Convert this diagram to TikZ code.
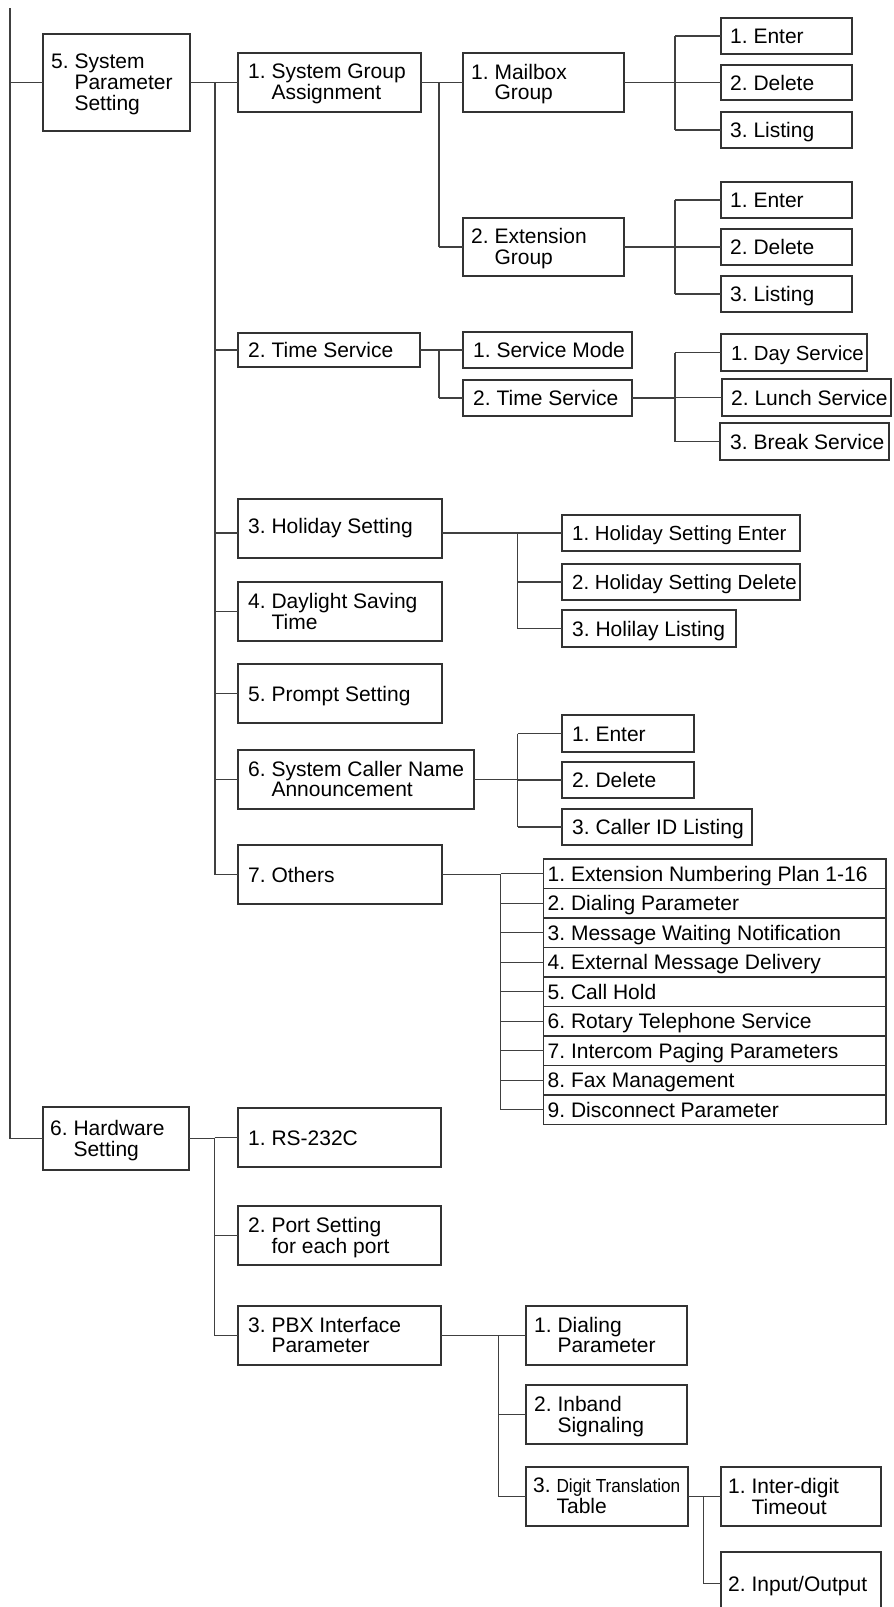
\documentclass[tikz,border=0pt]{standalone}
\usepackage{fontspec}
\setmainfont{Liberation Sans}
\usepackage{graphicx}
\usetikzlibrary{fit}
\newcommand\mainsz{\fontsize{21}{19.5}\selectfont\frenchspacing}
\newcommand\smsz{\fontsize{20.4}{19.5}\selectfont}
\tikzset{
  box/.style={draw=black!80, line width=1.2pt, inner sep=0pt, outer sep=0pt},
  lbl/.style={inner sep=0pt, anchor=west, font=\mainsz, text height=15pt, text depth=0pt},
  lblm/.style={inner sep=0pt, anchor=west, font=\mainsz, yshift=-2.5pt},
  conn/.style={draw=black!75, line width=1.2pt},
}
\newcommand\bx[7]{\node[box, fit={(#2,#3) (#4,#5)}] (#1) {};
  \node[lbl] (#1-lab) at ([xshift=#6pt]#1.west) {#7};}
\newcommand\bxm[7]{\node[box, fit={(#2,#3) (#4,#5)}] (#1) {};
  \node[lblm] (#1-lab) at ([xshift=#6pt]#1.west) {\begin{tabular}{@{}l@{\ }l@{}}#7\end{tabular}};}
\begin{document}
\begin{tikzpicture}[x=1pt,y=-1pt]
\useasboundingbox (0,0) rectangle (894,1607);

% level 1
\bxm{sps}{43}{34}{190}{131}{8}{5.&System\\&Parameter\\&Setting}
\bxm{hw}{43}{1107}{189}{1170}{7}{6.&Hardware\\&Setting}

% level 2 under System Parameter Setting
\bxm{sga}{238}{53}{421}{112}{10}{1.&System Group\\&Assignment}
\bx{ts}{238}{333}{420}{367}{10}{2. Time Service}
\node[box, fit={(238,499) (442,558)}] (hol) {};
\node[lbl] (hol-lab) at ([xshift=10pt,yshift=2.5pt]hol.west) {3. Holiday Setting};
\bxm{dst}{238}{582}{442}{641}{10}{4.&Daylight Saving\\&Time}
\bx{ps}{238}{664}{442}{723}{10}{5. Prompt Setting}
\bxm{scna}{238}{750}{474}{809}{10}{6.&System Caller Name\\&Announcement}
\bx{oth}{238}{845}{442}{904}{10}{7. Others}

% System Group Assignment
\bxm{mb}{463}{53}{624}{112}{8}{1.&Mailbox\\&Group}
\bxm{eg}{463}{218}{624}{276}{8}{2.&Extension\\&Group}
\bx{mb1}{721}{18}{852}{54}{9}{1. Enter}
\bx{mb2}{721}{65}{852}{100}{9}{2. Delete}
\bx{mb3}{721}{112}{852}{148}{9}{3. Listing}
\bx{eg1}{721}{182}{852}{218}{9}{1. Enter}
\bx{eg2}{721}{229}{852}{265}{9}{2. Delete}
\bx{eg3}{721}{276}{852}{312}{9}{3. Listing}

% Time Service
\bx{sm}{463}{332}{632}{368}{10}{1. Service Mode}
\bx{tss}{463}{380}{632}{416}{10}{2. Time Service}
\bx{ds}{721}{334}{867}{371}{10}{\smsz 1. Day Service}
\bx{ls}{722}{379}{891}{416}{9}{2. Lunch Service}
\bx{bs}{720}{423}{889}{460}{10}{3. Break Service}

% Holiday
\bx{ha}{562}{515}{800}{551}{10}{\smsz 1. Holiday Setting Enter}
\bx{hb}{562}{564}{800}{600}{10}{\smsz 2. Holiday Setting Delete}
\bx{hc}{562}{610}{736}{647}{10}{3. Holilay Listing}

% Caller name
\bx{ca}{562}{715}{694}{752}{10}{1. Enter}
\bx{cb}{562}{762}{694}{798}{10}{2. Delete}
\bx{cc}{562}{809}{752}{845}{10}{3. Caller ID Listing}

% Others list
\bx{oa}{543.5}{859}{886}{888.5}{4}{1. Extension Numbering Plan 1-16}
\bx{ob}{543.5}{888.5}{886}{918}{4}{2. Dialing Parameter}
\bx{oc}{543.5}{918}{886}{947.5}{4}{3. Message Waiting Notification}
\bx{od}{543.5}{947.5}{886}{977}{4}{4. External Message Delivery}
\bx{oe}{543.5}{977}{886}{1006.5}{4}{5. Call Hold}
\bx{of}{543.5}{1006.5}{886}{1036}{4}{6. Rotary Telephone Service}
\bx{og}{543.5}{1036}{886}{1065.5}{4}{7. Intercom Paging Parameters}
\bx{oh}{543.5}{1065.5}{886}{1095}{4}{8. Fax Management}
\bx{oi}{543.5}{1095}{886}{1124.5}{4}{9. Disconnect Parameter}

% Hardware
\bx{rs}{238}{1108}{441}{1167}{10}{1. RS-232C}
\bxm{port}{238}{1206}{441}{1265}{10}{2.&Port Setting\\&for each port}
\bxm{pbx}{238}{1306}{441}{1365}{10}{3.&PBX Interface\\&Parameter}
\bxm{dp}{526}{1306}{687}{1365}{8}{1.&Dialing\\&Parameter}
\bxm{ib}{526}{1385}{687}{1444}{8}{2.&Inband\\&Signaling}
\bxm{dt}{526}{1467}{688}{1526}{7}{3.&\scalebox{0.82}[0.9]{Digit Translation}\\&Table}
\bxm{it}{721}{1467}{881}{1526}{7}{1.&Inter-digit\\&Timeout}
\bx{io}{721}{1552}{881}{1615}{7}{2. Input/Output}

% connectors
\coordinate (rtop) at (10,8);
\draw[conn] (rtop) |- (hw.west);
\draw[conn] (rtop |- sps.west) -- (sps.west);

\coordinate (bA) at (215,0);
\coordinate (holW) at ([yshift=-4.5pt]hol.west);
\coordinate (holE) at ([yshift=-4.5pt]hol.east);
\draw[conn] (sps.east) -- (sps.east -| bA);
\draw[conn] (bA |- sga.west) -- (bA |- oth.west);
\foreach \c in {sga,ts,dst,ps,scna,oth} \draw[conn] (bA |- \c.west) -- (\c.west);
\draw[conn] (bA |- holW) -- (holW);

\coordinate (bB) at (439,0);
\draw[conn] (sga.east) -- (sga.east -| bB);
\draw[conn] (bB |- mb.west) -- (bB |- eg.west);
\foreach \c in {mb,eg} \draw[conn] (bB |- \c.west) -- (\c.west);

\coordinate (bC) at (675,0);
\draw[conn] (mb.east) -- (mb.east -| bC);
\draw[conn] (bC |- mb1.west) -- (bC |- mb3.west);
\foreach \c in {mb1,mb2,mb3} \draw[conn] (bC |- \c.west) -- (\c.west);
\draw[conn] (eg.east) -- (eg.east -| bC);
\draw[conn] (bC |- eg1.west) -- (bC |- eg3.west);
\foreach \c in {eg1,eg2,eg3} \draw[conn] (bC |- \c.west) -- (\c.west);

\draw[conn] (ts.east) -- (ts.east -| bB);
\draw[conn] (bB |- sm.west) -- (bB |- tss.west);
\foreach \c in {sm,tss} \draw[conn] (bB |- \c.west) -- (\c.west);
\draw[conn] (tss.east) -- (tss.east -| bC);
\draw[conn] (bC |- ds.west) -- (bC |- bs.west);
\foreach \c in {ds,ls,bs} \draw[conn] (bC |- \c.west) -- (\c.west);

\coordinate (bD) at (517.5,0);
\draw[conn] (holE) -- (holE -| bD);
\draw[conn] (bD |- ha.west) -- (bD |- hc.west);
\foreach \c in {ha,hb,hc} \draw[conn] (bD |- \c.west) -- (\c.west);
\draw[conn] (scna.east) -- (scna.east -| bD);
\draw[conn] (bD |- ca.west) -- (bD |- cc.west);
\foreach \c in {ca,cb,cc} \draw[conn] (bD |- \c.west) -- (\c.west);

\coordinate (bE) at (500.5,0);
\draw[conn] (oth.east) -- (oth.east -| bE);
\draw[conn] (bE |- oa.west) -- (bE |- oi.west);
\foreach \c in {oa,ob,oc,od,oe,of,og,oh,oi} \draw[conn] (bE |- \c.west) -- (\c.west);

\coordinate (bF) at (214.5,0);
\draw[conn] (hw.east) -- (hw.east -| bF);
\draw[conn] (bF |- rs.west) -- (bF |- pbx.west);
\foreach \c in {rs,port,pbx} \draw[conn] (bF |- \c.west) -- (\c.west);

\coordinate (bG) at (498.5,0);
\draw[conn] (pbx.east) -- (pbx.east -| bG);
\draw[conn] (bG |- dp.west) -- (bG |- dt.west);
\foreach \c in {dp,ib,dt} \draw[conn] (bG |- \c.west) -- (\c.west);

\coordinate (bH) at (703.6,0);
\draw[conn] (dt.east) -- (dt.east -| bH);
\draw[conn] (bH |- it.west) -- (bH |- io.west);
\foreach \c in {it,io} \draw[conn] (bH |- \c.west) -- (\c.west);
\end{tikzpicture}
\end{document}
